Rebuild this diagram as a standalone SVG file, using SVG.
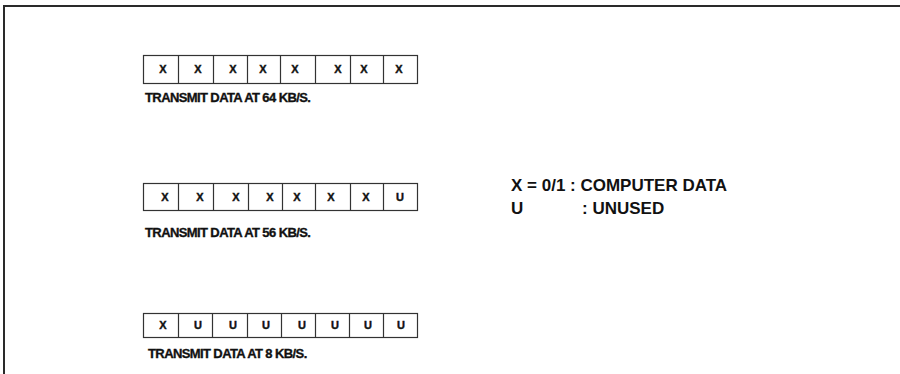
<svg xmlns="http://www.w3.org/2000/svg" width="900" height="374" viewBox="0 0 900 374">
<style>
.frame{fill:none;stroke:#2a2a2a;stroke-width:2}
.cell{fill:#fff;stroke:#333;stroke-width:1.2}
.div{stroke:#333;stroke-width:1.2}
.bit{font-family:"Liberation Sans",Arial,sans-serif;font-weight:bold;font-size:11px;fill:#111;stroke:#111;stroke-width:0.4;text-anchor:middle}
.lbl{font-family:"Liberation Sans",Arial,sans-serif;font-weight:bold;font-size:13px;fill:#111;stroke:#111;stroke-width:0.35;letter-spacing:-0.6px}
.leg{font-family:"Liberation Sans",Arial,sans-serif;font-weight:bold;font-size:17px;fill:#111}
</style>
<rect width="900" height="374" fill="#fff"/>
<path class="frame" d="M4,374 V6 H900"/>
<g id="row64">
<rect class="cell" x="143.5" y="55.5" width="274" height="28"/>
<path class="div" d="M178.5,55.5V83.5M213.5,55.5V83.5M247.5,55.5V83.5M280.5,55.5V83.5M315.5,55.5V83.5M350.5,55.5V83.5M383.5,55.5V83.5"/>
<text class="bit" y="73"><tspan x="163">X</tspan><tspan x="198">X</tspan><tspan x="233">X</tspan><tspan x="263">X</tspan><tspan x="295">X</tspan><tspan x="338">X</tspan><tspan x="364">X</tspan><tspan x="399">X</tspan></text>
<text class="lbl" x="145" y="102">TRANSMIT DATA AT 64 KB/S.</text>
</g>
<g id="row56">
<rect class="cell" x="143.5" y="183.5" width="274" height="27"/>
<path class="div" d="M178.5,183.5V210.5M213.5,183.5V210.5M248.5,183.5V210.5M282.5,183.5V210.5M315.5,183.5V210.5M350.5,183.5V210.5M383.5,183.5V210.5"/>
<text class="bit" y="201"><tspan x="165">X</tspan><tspan x="200">X</tspan><tspan x="236">X</tspan><tspan x="270">X</tspan><tspan x="297">X</tspan><tspan x="331">X</tspan><tspan x="366">X</tspan><tspan x="400">U</tspan></text>
<text class="lbl" x="145" y="237">TRANSMIT DATA AT 56 KB/S.</text>
</g>
<g id="row8">
<rect class="cell" x="143.5" y="313.5" width="274" height="24"/>
<path class="div" d="M178.5,313.5V337.5M212.5,313.5V337.5M247.5,313.5V337.5M281.5,313.5V337.5M315.5,313.5V337.5M349.5,313.5V337.5M383.5,313.5V337.5"/>
<text class="bit" y="329"><tspan x="163">X</tspan><tspan x="198">U</tspan><tspan x="233">U</tspan><tspan x="266">U</tspan><tspan x="302">U</tspan><tspan x="335">U</tspan><tspan x="368">U</tspan><tspan x="401">U</tspan></text>
<text class="lbl" x="148" y="358">TRANSMIT DATA AT 8 KB/S.</text>
</g>
<g id="legend">
<text class="leg" x="511" y="191">X = 0/1 : COMPUTER DATA</text>
<text class="leg" y="214"><tspan x="511">U</tspan><tspan x="582">: UNUSED</tspan></text>
</g>
<g id="connectors"/>
</svg>
